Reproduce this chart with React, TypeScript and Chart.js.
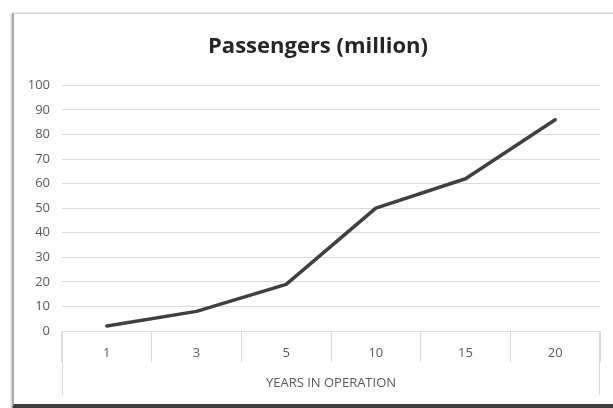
import React, { useEffect, useRef } from "react";
import { Chart, registerables } from "chart.js";

Chart.register(...registerables);

const TITLE = "Passengers (million)";
const X_TITLE = "YEARS IN OPERATION";
const categories = ["1", "3", "5", "10", "15", "20"];
const passengers = [2, 8, 19, 50, 62, 86];
const Y_MIN = 0;
const Y_MAX = 100;
const Y_STEP = 10;

const FONT = "'Open Sans', Lato, 'Liberation Sans', sans-serif";
const GRID = "#d9d9d9";

// the title is centred on the whole chart frame, which starts left of the plot
const titleShift = {
  id: "titleShift",
  afterLayout(chart: any) {
    const t = chart.titleBlock;
    if (t) t.left = t.left + 36;
  },
};

const outerLines = {
  id: "outerLines",
  afterDraw(chart: any) {
    const { ctx, chartArea, scales } = chart;
    const x = scales.x;
    ctx.save();
    ctx.strokeStyle = GRID;
    ctx.lineWidth = 1;
    ctx.beginPath();
    const yEnd = x.bottom - 13;
    ctx.moveTo(Math.round(chartArea.left) + 0.5, chartArea.bottom);
    ctx.lineTo(Math.round(chartArea.left) + 0.5, yEnd);
    ctx.moveTo(Math.round(chartArea.right) - 0.5, chartArea.bottom);
    ctx.lineTo(Math.round(chartArea.right) - 0.5, yEnd);
    ctx.stroke();
    ctx.restore();
  },
};

export default function App() {
  const ref = useRef<HTMLCanvasElement | null>(null);

  useEffect(() => {
    if (!ref.current) return;
    const chart = new Chart(ref.current, {
      type: "line",
      data: {
        labels: categories,
        datasets: [
          {
            label: TITLE,
            data: passengers,
            borderColor: "#404040",
            borderWidth: 3.5,
            pointRadius: 0,
            tension: 0,
            fill: false,
            borderCapStyle: "round",
            borderJoinStyle: "round",
          },
        ],
      },
      options: {
        responsive: false,
        animation: false,
        layout: { padding: { left: 0, right: 13, top: 0, bottom: 0 } },
        plugins: {
          legend: { display: false },
          tooltip: { enabled: false },
          title: {
            display: true,
            text: TITLE,
            color: "#262626",
            font: { family: FONT, size: 22, weight: "bold" },
            padding: { top: 34, bottom: 25 },
          },
        },
        scales: {
          x: {
            type: "category",
            offset: true,
            grid: {
              offset: true,
              drawOnChartArea: false,
              drawTicks: true,
              tickLength: 31,
              color: GRID,
              tickColor: GRID,
            },
            border: { display: true, color: GRID, width: 1 },
            ticks: {
              color: "#595959",
              font: { family: FONT, size: 13 },
              padding: -17,
              maxRotation: 0,
            },
            title: {
              display: true,
              text: X_TITLE,
              color: "#595959",
              font: { family: FONT, size: 13 },
              padding: { top: 0, bottom: 17 },
            },
            afterFit: (scale: any) => {
              scale.height = 77;
            },
          },
          y: {
            min: Y_MIN,
            max: Y_MAX,
            grid: { color: GRID, drawTicks: false, lineWidth: 1 },
            border: { display: false },
            ticks: {
              stepSize: Y_STEP,
              color: "#595959",
              font: { family: FONT, size: 13 },
              padding: 12,
            },
            afterFit: (scale: any) => {
              scale.width = 62;
            },
          },
        },
      },
      plugins: [titleShift, outerLines],
    });
    return () => chart.destroy();
  }, []);

  return (
    <div
      style={{
        position: "absolute",
        left: 0,
        top: 0,
        width: 613,
        height: 408,
        overflow: "hidden",
        background: "#ffffff",
      }}
    >
      <div
        style={{
          position: "absolute",
          left: 12,
          top: 13,
          width: 620,
          height: 390,
          borderLeft: "2px solid #a9a9a9",
          borderTop: "1px solid #d2d2d2",
          borderBottom: "5px solid #3c3c3c",
          boxShadow: "-1px 0 2px rgba(0,0,0,0.25)",
          background: "#ffffff",
        }}
      />
      <canvas
        ref={ref}
        width={613}
        height={408}
        style={{ position: "absolute", left: 0, top: 0 }}
      />
    </div>
  );
}
